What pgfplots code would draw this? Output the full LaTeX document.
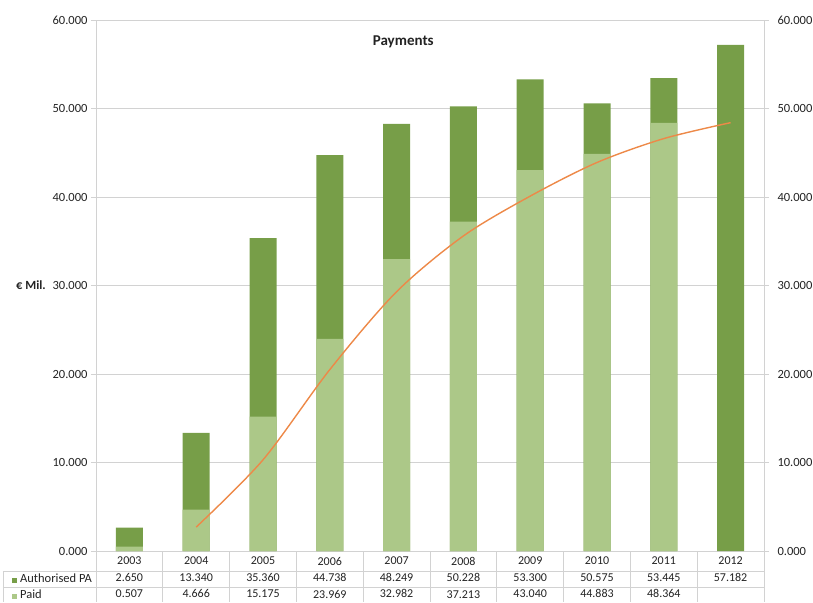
\documentclass[border=0pt]{standalone}
\usepackage{pgfplots}
\pgfplotsset{compat=1.18}
\usepackage{fontspec}
\setmainfont{Carlito}

\definecolor{authgreen}{RGB}{119,158,72}
\definecolor{paidgreen}{RGB}{172,200,136}
\definecolor{lineorange}{RGB}{237,137,72}
\definecolor{gridgray}{RGB}{210,210,210}
\definecolor{labelgray}{RGB}{35,35,35}

\pgfplotsset{
  payaxis/.style={
    scale only axis,
    width=668pt, height=531pt,
    at={(0,0)}, anchor=south west,
    xmin=-0.5, xmax=9.5,
    ymin=0, ymax=60,
    ytick={0,10,...,60},
    /pgf/number format/assume math mode=true,
    yticklabel={\pgfmathprintnumber[fixed,fixed zerofill,precision=3]{\tick}},
    tick align=outside,
    major tick length=5pt,
    tick style={draw=gridgray, line width=0.8pt},
    axis line style={draw=gridgray, line width=0.8pt},
    ticklabel style={font=\fontsize{12.5}{15}\selectfont, text=labelgray},
  },
}

\begin{document}
\begin{tikzpicture}
\useasboundingbox (-96pt,-51pt) rectangle (717pt,551pt);

\begin{axis}[
  payaxis,
  ytick pos=left,
  ymajorgrids,
  grid style={draw=gridgray, line width=0.8pt},
  xtick=data,
  xtick style={draw=none},
  xticklabels={
    {2003\\2.650\\0.507},
    {2004\\13.340\\4.666},
    {2005\\35.360\\15.175},
    {2006\\44.738\\23.969},
    {2007\\48.249\\32.982},
    {2008\\50.228\\37.213},
    {2009\\53.300\\43.040},
    {2010\\50.575\\44.883},
    {2011\\53.445\\48.364},
    {2012\\57.182\\}
  },
  xticklabel style={align=center, anchor=north, inner sep=0pt,
    font=\fontsize{12}{16.5}\selectfont, yshift=-1pt},
  clip=false,
]
% Authorised PA
\addplot[ybar, bar width=27pt, bar shift=0pt, fill=authgreen, draw=none]
  coordinates {(0,2.650) (1,13.340) (2,35.360) (3,44.738) (4,48.249)
               (5,50.228) (6,53.300) (7,50.575) (8,53.445) (9,57.182)};
% Paid
\addplot[ybar, bar width=27pt, bar shift=0pt, fill=paidgreen, draw=none]
  coordinates {(0,0.507) (1,4.666) (2,15.175) (3,23.969) (4,32.982)
               (5,37.213) (6,43.040) (7,44.883) (8,48.364)};

\node[font=\bfseries\fontsize{15}{17}\selectfont, text=labelgray]
  at (rel axis cs:0.46,0.959) {Payments};
\node[font=\bfseries\fontsize{12.5}{14}\selectfont, text=labelgray, anchor=center]
  at ([xshift=-65pt]rel axis cs:0,0.5) {€ Mil.};
\end{axis}

\begin{axis}[
  payaxis,
  axis x line=none,
  axis y line*=right,
  yticklabel style={xshift=5pt},
]
\addplot[lineorange, line width=1.4pt, smooth]
  coordinates {(1,2.7) (2,10.3) (3,20.5) (4,29.3) (5,35.6)
               (6,40.1) (7,43.9) (8,46.6) (9,48.4)};
\end{axis}

% data table grid
\foreach \k in {0,...,10}
  \draw[gridgray, line width=0.8pt] (66.8*\k pt,0) -- (66.8*\k pt,-51pt);
\draw[gridgray, line width=0.8pt] (-93pt,-20pt) -- (668pt,-20pt);
\draw[gridgray, line width=0.8pt] (-93pt,-36pt) -- (668pt,-36pt);
\draw[gridgray, line width=0.8pt] (-93pt,-20pt) -- (-93pt,-51pt);

\node[anchor=west, inner sep=0pt, font=\fontsize{12.5}{14}\selectfont, text=labelgray]
  at (-84pt,-27.5pt) {{\color{authgreen}\rule{5pt}{5pt}}\hspace{3pt}Authorised PA};
\node[anchor=west, inner sep=0pt, font=\fontsize{12.5}{14}\selectfont, text=labelgray]
  at (-84pt,-43.5pt) {{\color{paidgreen}\rule{5pt}{5pt}}\hspace{3pt}Paid};
\end{tikzpicture}
\end{document}
